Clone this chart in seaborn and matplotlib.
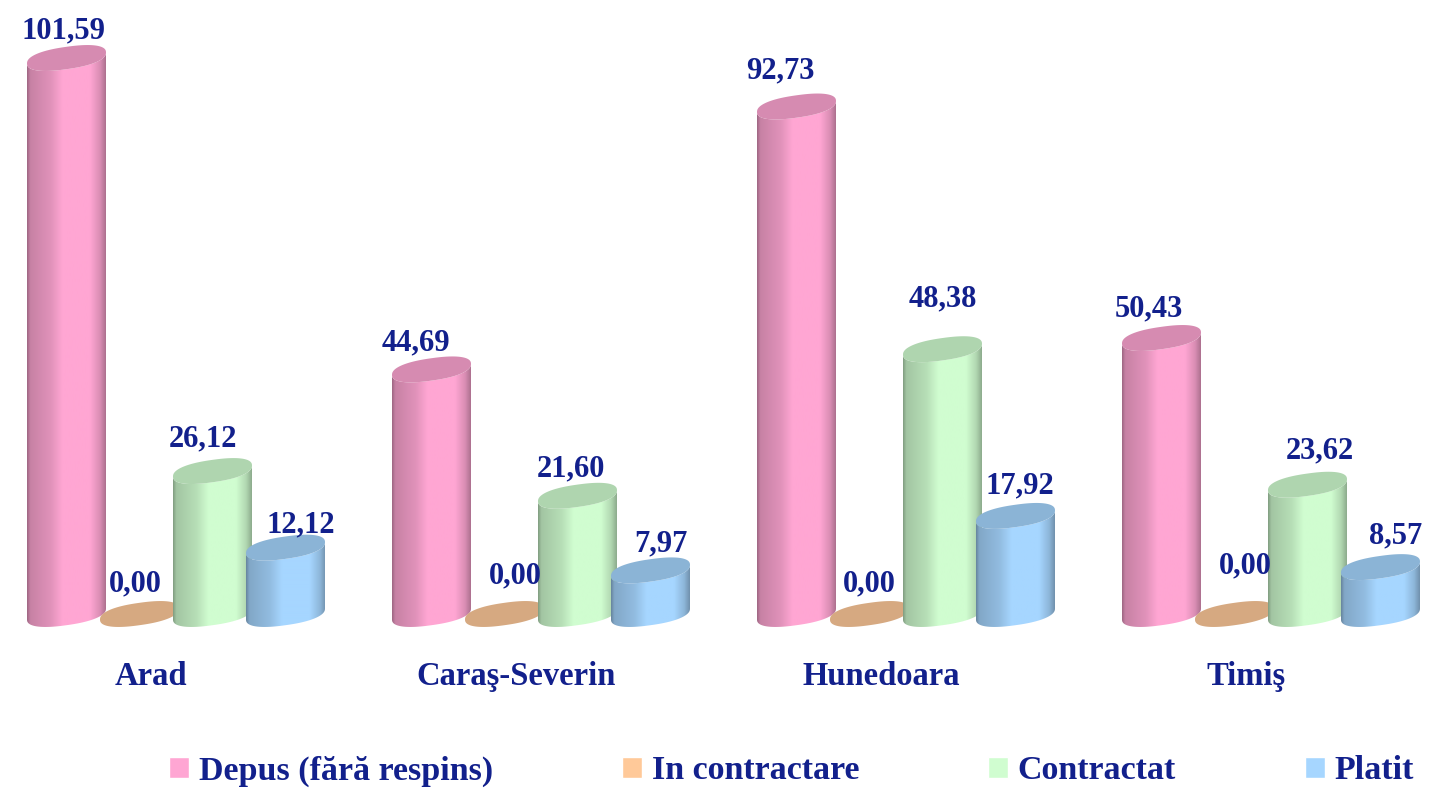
import matplotlib
matplotlib.use('Agg')
import matplotlib.pyplot as plt
import matplotlib.transforms as mtrans
from matplotlib.patches import Polygon
import numpy as np
import pandas as pd
import seaborn as sns

counties = ['Arad', 'Caraş-Severin', 'Hunedoara', 'Timiş']
series = ['Depus (fără respins)', 'In contractare', 'Contractat', 'Platit']
depus = [101.59, 44.69, 92.73, 50.43]
contractare = [0.00, 0.00, 0.00, 0.00]
contractat = [26.12, 21.60, 48.38, 23.62]
platit = [12.12, 7.97, 17.92, 8.57]

colors = ['#ffa6d3', '#ffc999', '#d0fdd0', '#a6d6ff']
navy = '#12208c'

# label offsets from the cap centre, in pixels (dx, dy), per series then county
nudges = [[(-3, 30), (-16, 29), (-16, 38), (-13, 32)],
          [(-4, 33), (11, 41), (0, 33), (11, 51)],
          [(-10, 35), (-7, 29), (0, 53), (12, 36)],
          [(15, 25), (10, 29), (4, 33), (15, 34)]]

df = pd.DataFrame({'county': np.repeat(counties, 4),
                   'serie': series * 4,
                   'value': [v for row in zip(depus, contractare, contractat, platit) for v in row]})

sns.set_theme(style='white')
plt.rcParams['font.family'] = ['Liberation Serif', 'DejaVu Serif']
plt.rcParams['font.weight'] = 'bold'

fig = plt.figure(figsize=(14.29, 7.89), dpi=100)
ax = fig.add_axes([0, 0, 1, 1])

# 365 px per county, 5.473 px per unit, zero level at pixel row 614
PX_X = 365.0
PX_Y = 5.473
xlim = (-176 / PX_X, (1429 - 176) / PX_X)
ylim = (-(789 - 614) / PX_Y, 614 / PX_Y)

sns.barplot(data=df, x='county', y='value', hue='serie', order=counties, hue_order=series,
            palette=colors, saturation=1, width=0.8, gap=0, ax=ax)
ax.set_xlim(*xlim)
ax.set_ylim(*ylim)
ax.set_xlabel('')
ax.set_ylabel('')
ax.set_yticks([])
sns.despine(ax=ax, left=True, bottom=True, top=True, right=True)
ax.spines['bottom'].set_position(('data', 0))
ax.tick_params(axis='x', length=0, pad=34, labelsize=23.5, labelcolor=navy)
shift = mtrans.ScaledTranslation(-25 / 100, 0, fig.dpi_scale_trans)
for lab in ax.get_xticklabels():
    lab.set_transform(lab.get_transform() + shift)
    lab.set_fontweight('bold')

A = 39.5   # half width of a cylinder
SKEW = 5.5 # cap tilt
B = 11.2
ROUND = 0.85  # fuller than a plain ellipse
shade_x = [0, 0.04, 0.3, 0.45, 0.8, 0.93, 1]
shade_f = [0.62, 0.78, 0.88, 1.0, 1.0, 0.85, 0.68]


def ring(cx, h, t):
    c = np.sign(np.cos(t)) * np.abs(np.cos(t)) ** ROUND
    s = np.sign(np.sin(t)) * np.abs(np.sin(t)) ** ROUND
    return np.column_stack([cx + A * c / PX_X,
                            h + (SKEW * c + B * s) / PX_Y])


def cylinder(cx, h, color, z):
    base = np.array(matplotlib.colors.to_rgb(color))
    if h > 0:
        t = np.linspace(np.pi, 2 * np.pi, 60)
        body = Polygon(np.vstack([ring(cx, 0, t), ring(cx, h, t[::-1])]), closed=True,
                       transform=ax.transData, fc='none', ec='none')
        ax.add_patch(body)
        f = np.interp(np.linspace(0, 1, 160), shade_x, shade_f)
        grad = (f[:, None] * base)[None, :, :]
        im = ax.imshow(grad, aspect='auto', interpolation='bilinear', zorder=z,
                       extent=(cx - A / PX_X, cx + A / PX_X, -20, h + 20))
        im.set_clip_path(body)
    cap = Polygon(ring(cx, h, np.linspace(0, 2 * np.pi, 120)), closed=True,
                  fc=base * 0.84, ec='none', zorder=z + 0.5)
    ax.add_patch(cap)


for i, cont in enumerate(ax.containers):
    for j, bar in enumerate(cont):
        bar.set_visible(False)
        cx = bar.get_x() + bar.get_width() / 2
        h = bar.get_height()
        cylinder(cx, h, colors[i], 3 + i)
        dx, dy = nudges[i][j]
        ax.annotate(f'{h:.2f}'.replace('.', ','), (cx, h), xytext=(dx * 0.72, (dy - 2.5) * 0.72),
                    textcoords='offset points', ha='center', va='center',
                    fontsize=22, fontweight='bold', color=navy, zorder=20)

ax.set_xlim(*xlim)
ax.set_ylim(*ylim)

sns.move_legend(ax, 'center left', bbox_to_anchor=(169 / 1429, 1 - 771 / 789), ncols=4, title=None,
                frameon=False, fontsize=24.5, labelcolor=navy, handlelength=0.59, handleheight=0.59,
                handletextpad=0.29, columnspacing=3.78, borderpad=0, borderaxespad=0)

fig.savefig('out.png', dpi=100, facecolor='white')
